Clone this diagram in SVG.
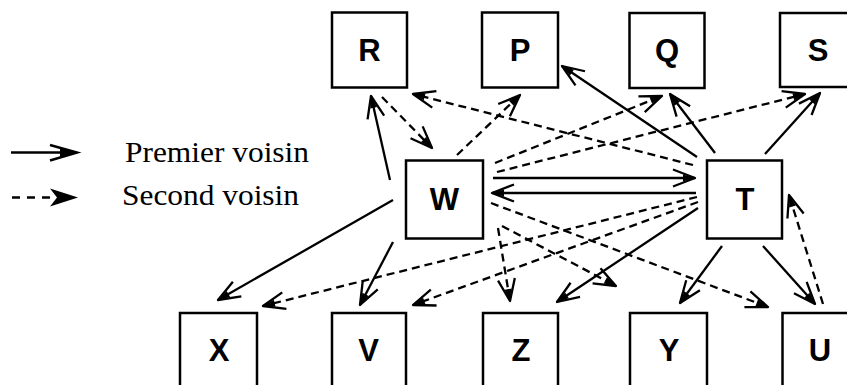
<svg xmlns="http://www.w3.org/2000/svg" width="847" height="385" viewBox="0 0 847 385">
<style>
.box{fill:#fff;stroke:#000;stroke-width:2.5}
.lbl{font-family:"Liberation Sans",Arial,sans-serif;font-weight:bold;font-size:31px;text-anchor:middle;fill:#000}
.leg{font-family:"Liberation Serif","Times New Roman",serif;font-size:28.5px;fill:#000}
.s{stroke:#000;stroke-width:2.3;fill:none;marker-end:url(#ah)}
.d{stroke:#000;stroke-width:2.3;fill:none;stroke-dasharray:8 5;marker-end:url(#ah)}
</style>
<defs>
<marker id="ah" markerUnits="userSpaceOnUse" markerWidth="40" markerHeight="40" viewBox="-30 -20 40 40" refX="0" refY="0" orient="auto" overflow="visible">
<path d="M-22,-8.5 L0,0 L-22,8.5" fill="none" stroke="#000" stroke-width="2.3" stroke-linejoin="round"/>
<path d="M0,0 L-12,-3.5 L-12,3.5 Z" fill="#000"/>
</marker>
</defs>
<rect width="847" height="385" fill="#fff"/>
<g id="legend">
<line x1="11" y1="152.5" x2="74" y2="152.5" stroke="#000" stroke-width="2.5"/>
<path d="M50,145 L77,152.5 L50,160.5" fill="none" stroke="#000" stroke-width="2.5"/>
<path d="M77,152.5 L60,148 L60,157 Z" fill="#000"/>
<line x1="12" y1="197.5" x2="56" y2="197.5" stroke="#000" stroke-width="2.5" stroke-dasharray="8 7"/>
<path d="M50,188.5 L78,197.5 L50,206.5 L57,197.5 Z" fill="#000"/>
<text class="leg" x="125" y="161.5" textLength="184" lengthAdjust="spacingAndGlyphs">Premier voisin</text>
<text class="leg" x="122" y="204.5" textLength="177" lengthAdjust="spacingAndGlyphs">Second voisin</text>
</g>
<g id="connectors">
<line class="s" x1="390" y1="180" x2="371" y2="96"/>
<line class="s" x1="393" y1="200" x2="218" y2="300"/>
<line class="s" x1="393" y1="242" x2="360" y2="305"/>
<line class="s" x1="697" y1="157" x2="562" y2="66"/>
<line class="s" x1="715" y1="153" x2="670" y2="94"/>
<line class="s" x1="765" y1="154" x2="820" y2="93"/>
<line class="s" x1="493" y1="178" x2="695" y2="178"/>
<line class="s" x1="696" y1="193" x2="492" y2="193"/>
<line class="s" x1="698" y1="208" x2="557" y2="302"/>
<line class="s" x1="722" y1="246" x2="680" y2="303"/>
<line class="s" x1="763" y1="246" x2="815" y2="304"/>
<line class="d" x1="382" y1="97" x2="432" y2="148"/>
<line class="d" x1="693" y1="165" x2="413" y2="94"/>
<line class="d" x1="457" y1="155" x2="520" y2="95"/>
<line class="d" x1="495" y1="163" x2="662" y2="96"/>
<line class="d" x1="497" y1="172" x2="805" y2="94"/>
<line class="d" x1="697" y1="197" x2="263" y2="306"/>
<line class="d" x1="698" y1="202" x2="413" y2="305"/>
<line class="d" x1="498" y1="228" x2="510" y2="301"/>
<line class="d" x1="502" y1="226" x2="616" y2="286"/>
<line class="d" x1="491" y1="203" x2="768" y2="307"/>
<line class="d" x1="823" y1="304" x2="789" y2="195"/>
</g>
<g id="R"><rect class="box" x="332" y="12.5" width="75" height="75"/><text class="lbl" x="369.5" y="61">R</text></g>
<g id="P"><rect class="box" x="482" y="12.5" width="76" height="75"/><text class="lbl" x="520" y="61">P</text></g>
<g id="Q"><rect class="box" x="629.5" y="13" width="75" height="75"/><text class="lbl" x="667" y="61">Q</text></g>
<g id="S"><rect class="box" x="780" y="13" width="76" height="74"/><text class="lbl" x="818" y="61">S</text></g>
<g id="W"><rect class="box" x="406" y="160.5" width="77" height="78"/><text class="lbl" x="444.5" y="210">W</text></g>
<g id="T"><rect class="box" x="707" y="160.5" width="75" height="78"/><text class="lbl" x="745" y="210">T</text></g>
<g id="X"><rect class="box" x="180" y="313" width="77" height="80"/><text class="lbl" x="219" y="361">X</text></g>
<g id="V"><rect class="box" x="332" y="313" width="74" height="80"/><text class="lbl" x="368.5" y="361">V</text></g>
<g id="Z"><rect class="box" x="483" y="313" width="75" height="80"/><text class="lbl" x="521" y="361">Z</text></g>
<g id="Y"><rect class="box" x="630" y="313" width="77" height="80"/><text class="lbl" x="669" y="361">Y</text></g>
<g id="U"><rect class="box" x="782.5" y="313" width="76" height="80"/><text class="lbl" x="820" y="361">U</text></g>
</svg>
